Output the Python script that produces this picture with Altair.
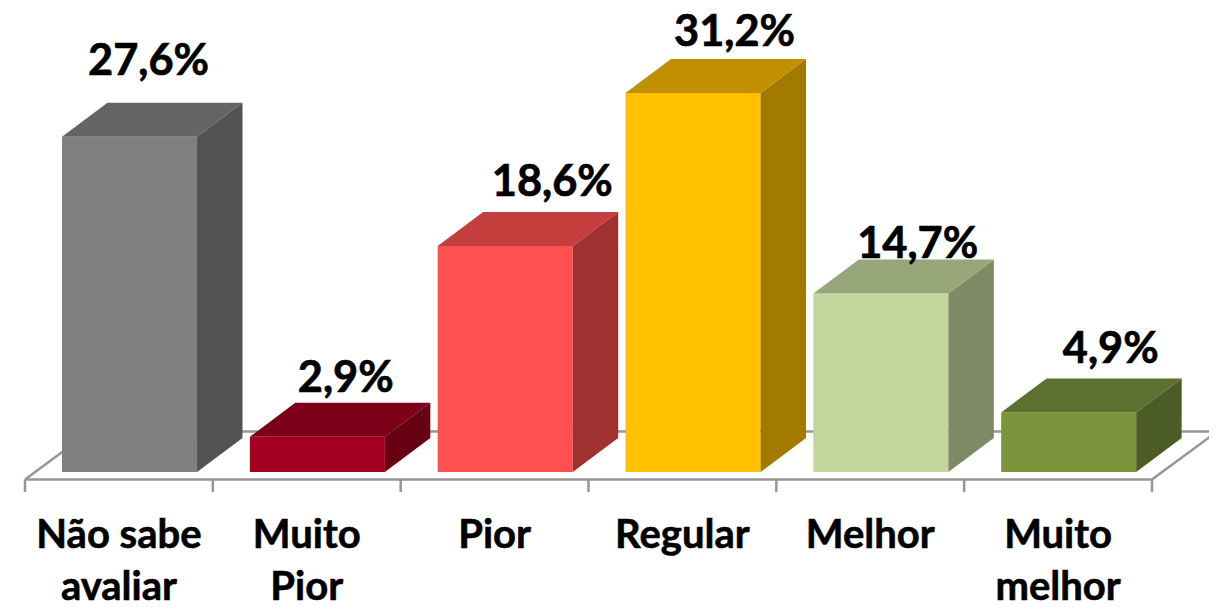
import altair as alt
import pandas as pd

# ---- data ----
categories = ["Não sabe\navaliar", "Muito\nPior", "Pior", "Regular", "Melhor", "Muito\nmelhor"]
values = [27.6, 2.9, 18.6, 31.2, 14.7, 4.9]
value_labels = ["27,6%", "2,9%", "18,6%", "31,2%", "14,7%", "4,9%"]
front_colors = ["#808080", "#a50021", "#ff5050", "#ffc000", "#c3d69b", "#7a953b"]
top_colors = ["#646464", "#7c0018", "#c43e3e", "#c09000", "#98a77a", "#5c7030"]
side_colors = ["#525252", "#670013", "#a03131", "#a27a00", "#7e8a64", "#4c5c26"]

# ---- layout (in axis units: one category = 1 on x, one percent = 1 on y) ----
W, H = 1201, 595
PX_X = 187.83
PX_Y = 12.147
x0 = 25
y0 = 472
x_dom = [(8 - x0) / PX_X, (8 + W - x0) / PX_X]
y_dom = [(y0 - 8 - H) / PX_Y, (y0 - 8) / PX_Y]
BAR_L = 0.197
BAR_W = 0.719
DX, DY = 0.242, 2.8
FLOOR_DX, FLOOR_FRONT, FLOOR_BACK = 0.346, -0.62, 3.33
TICK_END = -1.65
CAT_Y = -6.25
LABEL_DX = [-0.02, 0.03, 0.13, 0.10, 0.075, 0.103]
LABEL_GAP = [2.3, 0.9, 1.3, 1.1, 0.15, 1.3]

x = alt.X("x:Q", axis=None, scale=alt.Scale(domain=x_dom, nice=False, zero=False))
y = alt.Y("y:Q", axis=None, scale=alt.Scale(domain=y_dom, nice=False, zero=False))

n = len(categories)
faces = []
face_colors = {}
for i, v in enumerate(values):
    L, R = i + BAR_L, i + BAR_L + BAR_W
    k = f"{i}-front"
    face_colors[k] = front_colors[i]
    faces += [dict(key=k, x=L, y=0, y2=v), dict(key=k, x=R, y=0, y2=v)]
    k = f"{i}-side"
    face_colors[k] = side_colors[i]
    faces += [dict(key=k, x=R, y=0, y2=v), dict(key=k, x=R + DX, y=DY, y2=v + DY)]
    k = f"{i}-top"
    face_colors[k] = top_colors[i]
    faces += [
        dict(key=k, x=L, y=v, y2=v),
        dict(key=k, x=L + DX, y=v, y2=v + DY),
        dict(key=k, x=R, y=v, y2=v + DY),
        dict(key=k, x=R + DX, y=v + DY, y2=v + DY),
    ]
faces = pd.DataFrame(faces)

floor = [
    dict(x=0, y=FLOOR_FRONT, x2=n, y2=FLOOR_FRONT),
    dict(x=FLOOR_DX, y=FLOOR_BACK, x2=n + FLOOR_DX, y2=FLOOR_BACK),
    dict(x=0, y=FLOOR_FRONT, x2=FLOOR_DX, y2=FLOOR_BACK),
    dict(x=n, y=FLOOR_FRONT, x2=n + FLOOR_DX, y2=FLOOR_BACK),
]
floor += [dict(x=i, y=FLOOR_FRONT, x2=i, y2=TICK_END) for i in range(n + 1)]
floor_chart = alt.Chart(pd.DataFrame(floor)).mark_rule(color="#969696", strokeWidth=2.5).encode(
    x=x, x2="x2:Q", y=y, y2="y2:Q"
)

bars = alt.Chart(faces).mark_area(interpolate="linear").encode(
    x=x,
    y=y,
    y2="y2:Q",
    color=alt.Color(
        "key:N",
        legend=None,
        scale=alt.Scale(domain=list(face_colors), range=list(face_colors.values())),
    ),
)

val_df = pd.DataFrame({
    "x": [i + BAR_L + (BAR_W + DX) / 2 + d for i, d in enumerate(LABEL_DX)],
    "y": [v + DY + g for v, g in zip(values, LABEL_GAP)],
    "t": value_labels,
})
val_text = alt.Chart(val_df).mark_text(
    font="Lato", fontWeight="bold", fontSize=43.3, color="#000000", align="center",
    baseline="alphabetic", stroke="#000000", strokeWidth=0.7,
).encode(x=x, y=y, text="t:N")

cat_df = pd.DataFrame({
    "x": [i + 0.5 for i in range(n)],
    "y": [CAT_Y] * n,
    "t": categories,
})
cat_text = alt.Chart(cat_df).mark_text(
    font="Lato", fontWeight="bold", fontSize=40, color="#000000", align="center",
    baseline="alphabetic", lineBreak="\n", lineHeight=52, stroke="#000000", strokeWidth=0.6,
).encode(x=x, y=y, text="t:N")

chart = (floor_chart + bars + val_text + cat_text).properties(
    width=W, height=H, padding=0, autosize=alt.AutoSizeParams(type="none"), background="#ffffff"
).configure_view(stroke=None)

chart.save("out.html", embed_options={"renderer": "svg", "actions": False})
